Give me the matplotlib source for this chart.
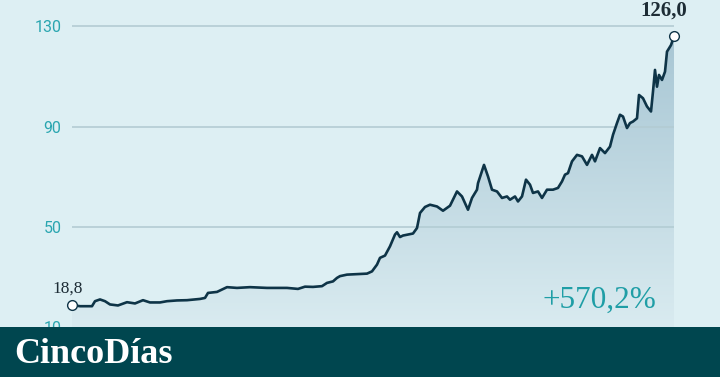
import numpy as np
import matplotlib
matplotlib.use("Agg")
import matplotlib.pyplot as plt
from matplotlib.colors import LinearSegmentedColormap

# ---- data ----
t = [0, 8, 20, 23, 28, 33, 38, 46, 55, 63, 71, 78, 88, 95, 105, 115, 128, 133, 136, 145,
     155, 165, 178, 195, 215, 226, 233, 241, 250, 255, 261, 265, 268, 275, 295, 300, 305,
     308, 313, 318, 323, 325, 328, 331, 336, 341, 345, 348, 353, 358, 365, 371, 378, 385,
     390, 396, 400, 405, 406, 412, 416, 420, 425, 430, 435, 438, 443, 446, 450, 454, 458,
     461, 466, 470, 475, 481, 486, 490, 493, 496, 500, 505, 510, 515, 520, 523, 528, 533,
     538, 541, 545, 548, 551, 555, 558, 561, 565, 567, 571, 575, 579, 581, 583, 585, 587,
     590, 593, 595, 597, 599, 602]
price = [18.8, 18.3, 18.3, 20.3, 21.0, 20.3, 19.0, 18.6, 19.9, 19.4, 20.7, 19.8, 19.8, 20.3,
         20.6, 20.7, 21.2, 21.6, 23.6, 24.0, 25.9, 25.6, 25.9, 25.6, 25.6, 25.2, 26.1, 26.0,
         26.3, 27.6, 28.2, 29.6, 30.3, 30.9, 31.3, 32.2, 34.9, 37.6, 38.5, 42.2, 46.9, 47.8,
         45.9, 46.5, 46.9, 47.3, 49.5, 55.5, 57.9, 58.8, 58.1, 56.4, 58.4, 64.1, 62.1, 56.8,
         61.5, 64.8, 67.4, 74.7, 70.1, 64.8, 64.1, 61.5, 62.1, 60.8, 62.1, 60.1, 62.1, 68.8,
         66.8, 63.5, 64.1, 61.5, 64.8, 64.8, 65.5, 68.1, 70.8, 71.4, 76.1, 78.7, 78.1, 74.7,
         78.7, 76.1, 81.4, 79.4, 82.0, 86.7, 91.4, 94.7, 94.0, 89.4, 91.4, 92.0, 93.3, 102.6,
         101.3, 98.0, 96.0, 104.0, 112.6, 105.9, 110.6, 108.6, 111.9, 119.9, 121.2, 122.5, 126.0]
yticks = [10, 50, 90, 130]
start_label = "18,8"
end_label = "126,0"
change_label = "+570,2%"
brand = "CincoDías"

# ---- style ----
BG = "#ddeff3"
LINE = "#0e3447"
TEAL = "#2aa6b0"
FOOT = "#00464f"

plt.rcParams["font.family"] = ["Roboto", "DejaVu Sans"]

W, H = 720, 377
fig = plt.figure(figsize=(W / 100, H / 100), dpi=100, facecolor=BG)

foot_h = 50 / H
ax = fig.add_axes([72 / W, foot_h, (674 - 72) / W, 1 - foot_h])
ax.set_facecolor("none")
for s in ax.spines.values():
    s.set_visible(False)
ax.set_xticks([])
ax.set_yticks(yticks)
ax.set_yticklabels([str(v) for v in yticks])
ax.tick_params(axis="y", length=0, pad=7.5, labelsize=11.5, labelcolor=TEAL)
for v in yticks[1:]:
    ax.axhline(v, color="#b3ccd3", lw=1.2, zorder=2)

# gradient fill under the curve
poly = ax.fill_between(t, price, 10, facecolor="none", edgecolor="none")
cmap = LinearSegmentedColormap.from_list("g", ["#d9ebf0", "#a6c5d3"])
grad = np.linspace(0, 1, 256).reshape(-1, 1)
im = ax.imshow(grad, extent=[t[0], t[-1], 10, 130], origin="lower", aspect="auto",
               cmap=cmap, zorder=1, interpolation="bicubic")
im.set_clip_path(poly.get_paths()[0], transform=ax.transData)
ax.set_xlim(t[0], t[-1])
ax.set_ylim(10, 140.5)

ax.plot(t, price, color=LINE, lw=1.9, zorder=3, solid_joinstyle="round")
ax.plot([t[0], t[-1]], [price[0], price[-1]], ls="none", marker="o", ms=7,
        mfc="white", mec=LINE, mew=1.0, zorder=4, clip_on=False)

ax.annotate(start_label, xy=(t[0], price[0]), xytext=(-4.5, 12), textcoords="offset pixels",
            ha="center", va="baseline", fontsize=12.5, color="#1d2c35",
            family="Liberation Serif")
ax.annotate(end_label, xy=(t[-1], price[-1]), xytext=(-10, 21), textcoords="offset pixels",
            ha="center", va="baseline", fontsize=15, color="#1d2c35",
            family="Liberation Serif", fontweight="bold")

fig.text(542 / W, 1 - 307.5 / H, change_label, ha="left", va="baseline", fontsize=22.5,
         color="#1f9ea6", family="Liberation Serif")

# footer band
fax = fig.add_axes([0, 0, 1, foot_h], zorder=5)
fax.set_facecolor(FOOT)
fax.set_xticks([]); fax.set_yticks([])
for s in fax.spines.values():
    s.set_visible(False)
fax.text(14 / W, (H - 363) / 50, brand, transform=fax.transAxes, ha="left", va="baseline",
         fontsize=26, color="white", family="Liberation Serif", fontweight="bold")

fig.savefig("out.png", dpi=100, facecolor=BG)
